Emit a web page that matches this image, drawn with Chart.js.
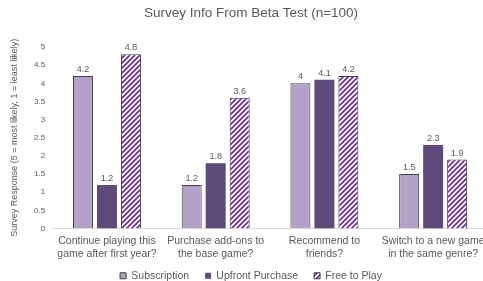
<!DOCTYPE html>
<html>
<head>
<meta charset="utf-8">
<script src="https://cdn.jsdelivr.net/npm/chart.js@4/dist/chart.umd.min.js"></script>
<style>
  html, body { margin: 0; padding: 0; background: #ffffff; overflow: hidden; width: 483px; height: 281px; }
  #wrap { width: 502px; height: 281px; }
  canvas { display: block; }
</style>
</head>
<body>
<div id="wrap"><canvas id="c" width="502" height="281"></canvas></div>
<script>
const categories = [
  ["Continue playing this", "game after first year?"],
  ["Purchase add-ons to", "the base game?"],
  ["Recommend to", "friends?"],
  ["Switch to a new game", "in the same genre?"]
];
const seriesNames = ["Subscription", "Upfront Purchase", "Free to Play"];
const subscription = [4.2, 1.2, 4, 1.5];
const upfront = [1.2, 1.8, 4.1, 2.3];
const freeToPlay = [4.8, 3.6, 4.2, 1.9];
const yMin = 0, yMax = 5, yStep = 0.5;
const titleText = "Survey Info From Beta Test (n=100)";
const yTitleText = "Survey Response (5 = most likely, 1 = least likely)";

const FONT = "'Liberation Sans', Arial, sans-serif";
const TEXT = "#595959";

function makeStripes() {
  const t = document.createElement('canvas');
  t.width = 5; t.height = 5;
  const c = t.getContext('2d');
  c.fillStyle = '#ffffff';
  c.fillRect(0, 0, 5, 5);
  c.strokeStyle = '#7030a0';
  c.lineWidth = 1.8;
  c.beginPath();
  c.moveTo(-1, 6); c.lineTo(6, -1);
  c.moveTo(-1, 1); c.lineTo(1, -1);
  c.moveTo(4, 6); c.lineTo(6, 4);
  c.stroke();
  return document.getElementById('c').getContext('2d').createPattern(t, 'repeat');
}
const stripes = makeStripes();

const valueLabels = {
  id: 'valueLabels',
  afterDatasetsDraw(chart) {
    const ctx = chart.ctx;
    ctx.save();
    ctx.font = "9px " + FONT;
    ctx.fillStyle = TEXT;
    ctx.textAlign = 'center';
    ctx.textBaseline = 'middle';
    chart.data.datasets.forEach((ds, di) => {
      const meta = chart.getDatasetMeta(di);
      meta.data.forEach((bar, i) => {
        ctx.fillText(String(ds.data[i]), bar.x, bar.y - 6.5);
      });
    });
    ctx.restore();
  }
};

// move the legend row up so it sits just under the category labels
const legendNudge = {
  id: 'legendNudge',
  afterLayout(chart) {
    if (chart.legend) { chart.legend.top -= 7; chart.legend.bottom -= 7; }
  }
};

new Chart(document.getElementById('c'), {
  type: 'bar',
  data: {
    labels: categories,
    datasets: [
      { label: seriesNames[0], data: subscription, backgroundColor: '#b3a2c7', borderColor: '#404040', borderWidth: 1 },
      { label: seriesNames[1], data: upfront, backgroundColor: '#5f4a7c', borderColor: '#5f4a7c', borderWidth: 0 },
      { label: seriesNames[2], data: freeToPlay, backgroundColor: stripes, borderColor: '#404040', borderWidth: 1 }
    ]
  },
  plugins: [valueLabels, legendNudge],
  options: {
    responsive: false,
    animation: false,
    devicePixelRatio: 1,
    layout: { padding: { left: 0, right: 0, top: 0, bottom: -17 } },
    datasets: { bar: { barPercentage: 0.833, categoryPercentage: 0.662 } },
    plugins: {
      tooltip: { enabled: false },
      title: {
        display: true,
        text: titleText,
        color: TEXT,
        font: { family: FONT, size: 13.5, weight: 'normal', lineHeight: 1.2 },
        padding: { top: 5.4, bottom: 25.4 }
      },
      legend: {
        display: true,
        position: 'bottom',
        labels: {
          color: TEXT,
          font: { family: FONT, size: 10.5 },
          boxWidth: 6,
          boxHeight: 6,
          padding: 16
        }
      }
    },
    scales: {
      x: {
        grid: { display: false, drawTicks: false },
        border: { display: true, color: '#d9d9d9', width: 1 },
        ticks: {
          color: TEXT,
          font: { family: FONT, size: 10.5, lineHeight: 1.25 },
          padding: 6,
          maxRotation: 0,
          minRotation: 0,
          autoSkip: false
        },
        afterFit(s) { s.height = 33; }
      },
      y: {
        min: yMin,
        max: yMax,
        grid: { display: false, drawTicks: false },
        border: { display: false },
        ticks: {
          stepSize: yStep,
          color: TEXT,
          font: { family: FONT, size: 8 },
          padding: 7.5,
          callback: (v) => String(Math.round(v * 10) / 10)
        },
        title: {
          display: true,
          text: yTitleText,
          color: TEXT,
          font: { family: FONT, size: 9, lineHeight: 1.2 },
          padding: { top: 9.6, bottom: 0 }
        },
        afterFit(s) { s.width = 52.6; }
      },
      y2: {
        position: 'right',
        display: true,
        grid: { display: false, drawTicks: false },
        border: { display: false },
        ticks: { display: false },
        afterFit(s) { s.width = 14.5; }
      }
    }
  }
});
</script>
</body>
</html>
